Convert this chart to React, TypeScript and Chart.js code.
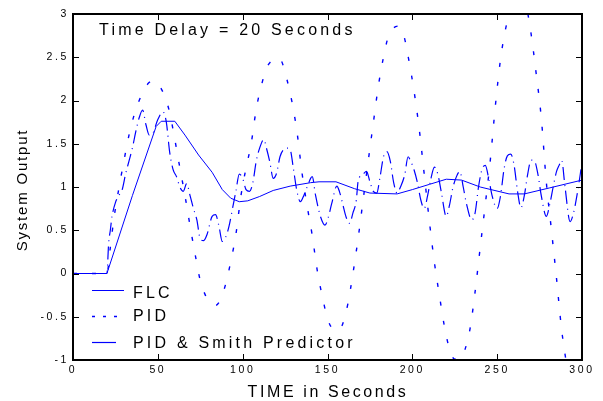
import React, { useEffect, useRef } from "react";
import { Chart, registerables } from "chart.js";

Chart.register(...registerables);

// ---------- data ----------
const flcTime = [0, 20, 35, 49, 52, 60, 66, 74, 82, 88, 93, 98, 103, 110, 118, 128, 140, 145, 155, 166, 175, 191, 200, 210, 220, 229, 240, 257, 266, 281, 300];
const flcValue = [0, 0, 0.9, 1.7, 1.76, 1.76, 1.6, 1.37, 1.17, 0.97, 0.87, 0.83, 0.84, 0.89, 0.96, 1.01, 1.05, 1.06, 1.06, 0.98, 0.93, 0.92, 0.97, 1.03, 1.09, 1.08, 1.0, 0.92, 0.92, 0.99, 1.08];

const pidTime = [0, 20, 22, 24, 27, 30, 33, 36, 39, 42, 45, 48, 51, 54, 57, 60, 63, 66, 69, 72, 75, 78, 81, 84, 87, 90, 93, 96, 99, 102, 105, 108, 111, 114, 117, 120, 123, 126, 129, 132, 135, 138, 141, 144, 147, 150, 153, 156, 159, 162, 165, 168, 171, 174, 177, 180, 183, 186, 189, 192, 195, 198, 201, 204, 207, 210, 213, 216, 219, 222, 225, 228, 231, 234, 237, 240, 243, 246, 249, 252, 255, 258, 261, 264, 267, 270, 273, 276, 279, 282, 285, 288, 291, 294, 297, 300];
const pidValue = [0, 0, 0.3, 0.62, 0.98, 1.3, 1.6, 1.83, 2.0, 2.13, 2.21, 2.23, 2.17, 2.05, 1.86, 1.55, 1.22, 0.9, 0.55, 0.22, -0.08, -0.25, -0.34, -0.37, -0.3, -0.12, 0.14, 0.45, 0.9, 1.22, 1.5, 1.9, 2.17, 2.37, 2.46, 2.5, 2.45, 2.25, 1.99, 1.64, 1.16, 0.78, 0.44, 0.03, -0.27, -0.52, -0.64, -0.66, -0.58, -0.35, 0.0, 0.4, 0.85, 1.3, 1.74, 2.17, 2.5, 2.75, 2.84, 2.86, 2.75, 2.46, 2.11, 1.68, 1.15, 0.61, 0.13, -0.26, -0.62, -0.88, -0.99, -0.99, -0.88, -0.64, -0.21, 0.3, 0.8, 1.32, 1.95, 2.48, 2.83, 3.05, 3.17, 3.2, 3.1, 2.77, 2.31, 1.8, 1.05, 0.5, -0.06, -0.65, -1.05, -1.3, -1.42, -1.45];

const smithTime = [0, 20, 21, 22, 23, 25, 27, 29, 31, 33, 35, 37, 39, 41, 43, 45, 47, 50, 53, 55, 57, 59, 61, 63, 65, 67, 69, 71, 73, 75, 77, 79, 82, 84, 86, 88, 90, 92, 94, 96, 98, 100, 102, 104, 106, 108, 110, 112.5, 114, 116, 118, 120, 122, 124, 126, 128, 130, 132, 134, 136, 138, 141, 143, 146, 148.5, 150.5, 152.5, 155.5, 157, 159, 161, 163, 165, 167, 168, 171, 173, 175, 177, 179, 181, 183, 185, 187, 189, 191, 193, 195.5, 197.5, 199, 201, 203, 205, 207, 209, 211, 213, 215, 217, 220, 222, 224, 226, 228, 230, 232, 235, 237, 239, 241, 243, 245, 247, 250, 252, 254, 256, 258, 260, 262, 264, 266, 268, 270, 272, 274, 276, 279, 281, 283, 285, 286.5, 288, 290, 293, 295, 297, 299, 300];
const smithValue = [0, 0, 0.35, 0.5, 0.66, 0.82, 0.9, 0.97, 1.15, 1.3, 1.45, 1.64, 1.8, 1.89, 1.72, 1.6, 1.62, 1.78, 1.87, 1.75, 1.4, 1.2, 1.12, 1.0, 0.95, 1.04, 0.9, 0.75, 0.62, 0.4, 0.38, 0.45, 0.66, 0.68, 0.55, 0.37, 0.42, 0.55, 0.75, 0.95, 1.15, 1.1, 0.97, 0.95, 1.05, 1.3, 1.45, 1.55, 1.45, 1.29, 1.1, 1.16, 1.35, 1.43, 1.45, 1.43, 1.2, 0.95, 0.83, 0.9, 1.0, 1.12, 0.9, 0.65, 0.56, 0.65, 0.81, 1.01, 0.95, 0.8, 0.65, 0.58, 0.7, 0.85, 1.06, 1.15, 1.18, 1.06, 0.95, 0.93, 1.12, 1.35, 1.41, 1.3, 1.05, 0.93, 1.0, 1.14, 1.35, 1.3, 1.2, 1.05, 0.85, 0.75, 0.9, 1.1, 1.23, 1.15, 0.95, 0.66, 0.8, 1.0, 1.12, 1.18, 1.0, 0.8, 0.62, 0.7, 1.0, 1.2, 1.25, 1.1, 0.9, 0.75, 0.9, 1.2, 1.36, 1.38, 1.25, 0.95, 0.76, 0.9, 1.15, 1.31, 1.3, 1.15, 0.9, 0.66, 0.8, 1.0, 1.18, 1.25, 1.31, 1.0, 0.6, 0.7, 0.9, 1.15, 1.3];

const xTicks = [0, 50, 100, 150, 200, 250, 300];
const yTicks = [-1, -0.5, 0, 0.5, 1, 1.5, 2, 2.5, 3];

const titleText = "Time Delay = 20 Seconds";
const xTitleText = "TIME in Seconds";
const yTitleText = "System Output";
const legendLabels = ["FLC", "PID", "PID & Smith Predictor"];

const FONT = '"Liberation Sans", Arial, Helvetica, sans-serif';
const BLUE = "#0000ff";

const toPoints = (t: number[], v: number[]) => t.map((x, i) => ({ x, y: v[i] }));

const decoPlugin = {
  id: "deco",
  beforeDraw(chart: any) {
    (chart.ctx as any).letterSpacing = "2.6px";
  },
  beforeDatasetsDraw(chart: any) {
    (chart.ctx as any).letterSpacing = "0px";
  },
  afterDraw(chart: any) {
    const ctx = chart.ctx as CanvasRenderingContext2D & { letterSpacing: string };
    const { left, right, top, bottom } = chart.chartArea;
    const xs = chart.scales.x;
    const ys = chart.scales.y;
    ctx.save();
    ctx.setLineDash([]);
    ctx.letterSpacing = "0px";
    ctx.globalAlpha = 1;
    ctx.fillStyle = "#000000";
    const L = Math.round(left);
    const R = Math.round(right) - 1;
    const T = Math.round(top);
    const B = Math.round(bottom) - 1;
    const w = 2;
    // frame
    ctx.fillRect(L - 1, T - 1, R - L + 2, w);
    ctx.fillRect(L - 1, B, R - L + 2, w);
    ctx.fillRect(L - 1, T - 1, w, B - T + 2);
    ctx.fillRect(R, T - 1, w, B - T + 3);
    const tl = 5;
    xs.ticks.forEach((t: any) => {
      const px = Math.round(xs.getPixelForValue(t.value));
      ctx.fillRect(px, B - tl, 1, tl);
      ctx.fillRect(px, T + 1, 1, tl);
    });
    ys.ticks.forEach((t: any) => {
      const py = Math.round(ys.getPixelForValue(t.value));
      ctx.fillRect(L + 1, py, tl, 1);
      ctx.fillRect(R - tl, py, tl, 1);
    });

    // texts
    ctx.fillStyle = "#000";
    ctx.textBaseline = "alphabetic";
    ctx.font = `16px ${FONT}`;
    ctx.letterSpacing = "3.2px";
    ctx.textAlign = "left";
    ctx.fillText(titleText, 99, 35);

    // legend
    ctx.fillText(legendLabels[0], 133, 297.5);
    ctx.fillText(legendLabels[1], 133, 321);
    ctx.fillText(legendLabels[2], 133, 347.5);

    ctx.letterSpacing = "2.6px";
    ctx.textAlign = "center";
    ctx.fillText(xTitleText, 328, 396.5);

    ctx.save();
    ctx.translate(27, 190);
    ctx.rotate(-Math.PI / 2);
    ctx.font = `15px ${FONT}`;
    ctx.letterSpacing = "1.8px";
    ctx.textAlign = "center";
    ctx.fillText(yTitleText, 0, 0);
    ctx.restore();

    // legend lines
    ctx.strokeStyle = BLUE;
    ctx.lineWidth = 1;
    ctx.beginPath();
    ctx.moveTo(92, 290.5);
    ctx.lineTo(124, 290.5);
    ctx.stroke();
    ctx.setLineDash([3, 8]);
    ctx.lineWidth = 1.3;
    ctx.beginPath();
    ctx.moveTo(92, 316.5);
    ctx.lineTo(118, 316.5);
    ctx.stroke();
    ctx.setLineDash([]);
    ctx.lineWidth = 1.2;
    ctx.beginPath();
    ctx.moveTo(92, 342.5);
    ctx.lineTo(116, 342.5);
    ctx.stroke();
    ctx.restore();
  },
};

const fmt = (v: any) => String(Number(v));

export default function App() {
  const ref = useRef<HTMLCanvasElement | null>(null);
  useEffect(() => {
    if (!ref.current) return;
    const chart = new Chart(ref.current, {
      type: "line",
      data: {
        datasets: [
          {
            label: legendLabels[0],
            data: toPoints(flcTime, flcValue),
            borderColor: BLUE,
            borderWidth: 1,
            pointRadius: 0,
            tension: 0,
            fill: false,
          },
          {
            label: legendLabels[1],
            data: toPoints(pidTime, pidValue),
            borderColor: BLUE,
            borderWidth: 1.4,
            borderDash: [4, 15],
            pointRadius: 0,
            cubicInterpolationMode: "monotone",
            fill: false,
          },
          {
            label: legendLabels[2],
            data: toPoints(smithTime, smithValue),
            borderColor: BLUE,
            borderWidth: 1.2,
            borderDash: [13, 5, 1, 5],
            pointRadius: 0,
            cubicInterpolationMode: "monotone",
            fill: false,
          },
        ],
      },
      options: {
        responsive: false,
        animation: false,
        events: [],
        layout: { padding: { left: 0, right: 21, top: 14, bottom: 0 } },
        plugins: { legend: { display: false }, tooltip: { enabled: false }, title: { display: false } },
        scales: {
          x: {
            type: "linear",
            min: 0,
            max: 300,
            afterBuildTicks: (s: any) => {
              s.ticks = xTicks.map((v) => ({ value: v }));
            },
            afterFit: (s: any) => {
              s.height = 41;
            },
            grid: { display: false, drawTicks: false },
            border: { display: false },
            ticks: {
              color: "#000",
              padding: 4,
              maxRotation: 0,
              autoSkip: false,
              callback: fmt,
              font: { family: FONT, size: 10.5 },
            },
          },
          y: {
            type: "linear",
            min: -1,
            max: 3,
            afterBuildTicks: (s: any) => {
              s.ticks = yTicks.map((v) => ({ value: v }));
            },
            afterFit: (s: any) => {
              s.width = 73;
            },
            grid: { display: false, drawTicks: false },
            border: { display: false },
            ticks: {
              color: "#000",
              padding: 4,
              autoSkip: false,
              callback: fmt,
              font: { family: FONT, size: 10.5 },
            },
          },
        },
      },
      plugins: [decoPlugin],
    } as any);
    return () => chart.destroy();
  }, []);
  return (
    <div style={{ position: "fixed", left: 0, top: 0, width: 603, height: 401, background: "#fff" }}>
      <canvas ref={ref} width={603} height={401} style={{ display: "block", width: 603, height: 401 }} />
    </div>
  );
}
